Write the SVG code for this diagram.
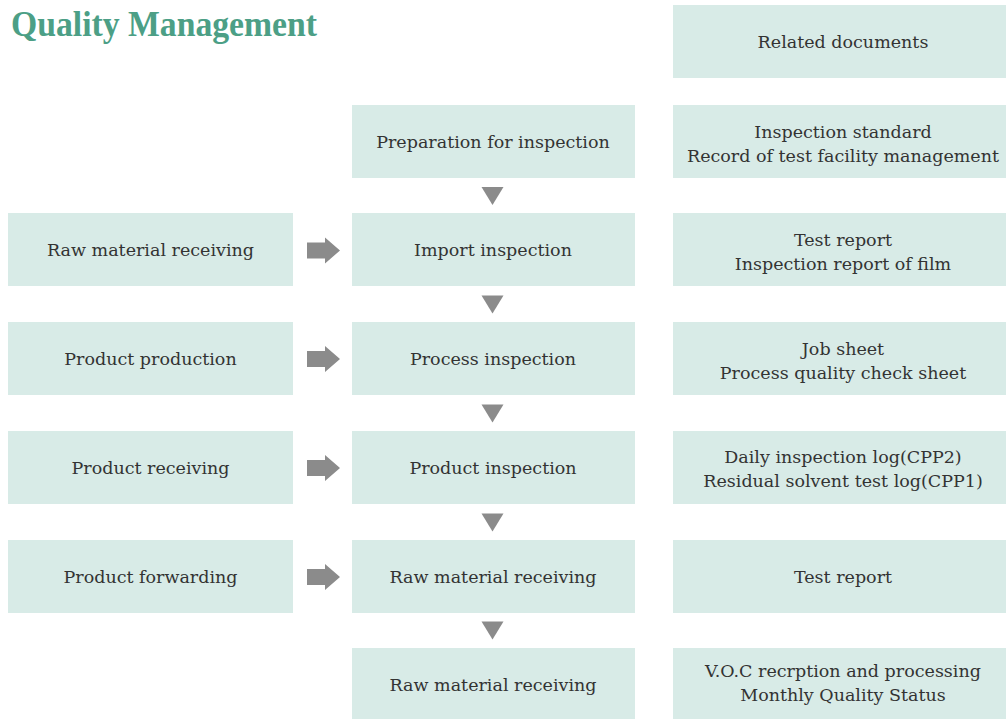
<svg xmlns="http://www.w3.org/2000/svg" width="1006" height="719" viewBox="0 0 1006 719">
<style>
.box{fill:#d8ebe7}
.t{font-family:"DejaVu Serif","Liberation Serif",serif;font-size:17.5px;fill:#333;text-anchor:middle}
.title{font-family:"Liberation Serif","DejaVu Serif",serif;font-weight:bold;font-size:35px;fill:#4c9f86}
.arr{fill:#8b8b8b}
</style>
<defs>
<polygon id="down" class="arr" points="-11,0 11,0 0,18"/>
<polygon id="right" class="arr" points="0,-8 18,-8 18,-13 33,0 18,13 18,8 0,8"/>
</defs>
<rect width="1006" height="719" fill="#fff"/>
<text class="title" x="11" y="36" textLength="306" lengthAdjust="spacingAndGlyphs">Quality Management</text>

<g id="doc-header"><rect class="box" x="673" y="5" width="345" height="73"/><text class="t" x="843" y="47.5">Related documents</text></g>

<g id="prep"><rect class="box" x="352" y="105" width="283" height="73"/><text class="t" x="493" y="147.5">Preparation for inspection</text></g>
<g id="doc-prep"><rect class="box" x="673" y="105" width="345" height="73"/><text class="t" x="843" y="138">Inspection standard</text><text class="t" x="843" y="162">Record of test facility management</text></g>

<g id="left-raw"><rect class="box" x="8" y="213" width="285" height="73"/><text class="t" x="150.5" y="255.5">Raw material receiving</text></g>
<g id="import"><rect class="box" x="352" y="213" width="283" height="73"/><text class="t" x="493" y="255.5">Import inspection</text></g>
<g id="doc-import"><rect class="box" x="673" y="213" width="345" height="73"/><text class="t" x="843" y="246">Test report</text><text class="t" x="843" y="270">Inspection report of film</text></g>

<g id="left-prod"><rect class="box" x="8" y="322" width="285" height="73"/><text class="t" x="150.5" y="364.5">Product production</text></g>
<g id="process"><rect class="box" x="352" y="322" width="283" height="73"/><text class="t" x="493" y="364.5">Process inspection</text></g>
<g id="doc-process"><rect class="box" x="673" y="322" width="345" height="73"/><text class="t" x="843" y="355">Job sheet</text><text class="t" x="843" y="379">Process quality check sheet</text></g>

<g id="left-recv"><rect class="box" x="8" y="431" width="285" height="73"/><text class="t" x="150.5" y="473.5">Product receiving</text></g>
<g id="product"><rect class="box" x="352" y="431" width="283" height="73"/><text class="t" x="493" y="473.5">Product inspection</text></g>
<g id="doc-product"><rect class="box" x="673" y="431" width="345" height="73"/><text class="t" x="843" y="463">Daily inspection log(CPP2)</text><text class="t" x="843" y="487">Residual solvent test log(CPP1)</text></g>

<g id="left-fwd"><rect class="box" x="8" y="540" width="285" height="73"/><text class="t" x="150.5" y="582.5">Product forwarding</text></g>
<g id="raw1"><rect class="box" x="352" y="540" width="283" height="73"/><text class="t" x="493" y="582.5">Raw material receiving</text></g>
<g id="doc-raw1"><rect class="box" x="673" y="540" width="345" height="73"/><text class="t" x="843" y="582.5">Test report</text></g>

<g id="raw2"><rect class="box" x="352" y="648" width="283" height="75"/><text class="t" x="493" y="690.5">Raw material receiving</text></g>
<g id="doc-raw2"><rect class="box" x="673" y="648" width="345" height="75"/><text class="t" x="843" y="677">V.O.C recrption and processing</text><text class="t" x="843" y="701">Monthly Quality Status</text></g>

<g id="connectors">
<use href="#down" x="492.5" y="187"/>
<use href="#down" x="492.5" y="295.5"/>
<use href="#down" x="492.5" y="404.5"/>
<use href="#down" x="492.5" y="513.5"/>
<use href="#down" x="492.5" y="621.5"/>
<use href="#right" x="307" y="250.5"/>
<use href="#right" x="307" y="359"/>
<use href="#right" x="307" y="468"/>
<use href="#right" x="307" y="577"/>
</g>
</svg>
